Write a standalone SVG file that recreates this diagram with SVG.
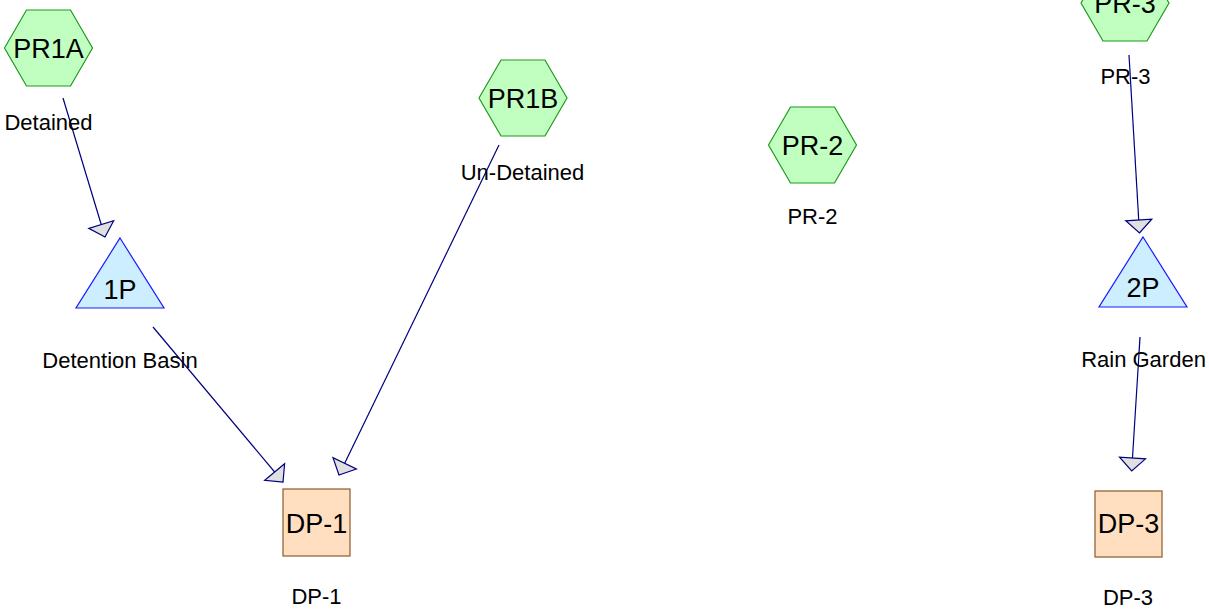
<svg xmlns="http://www.w3.org/2000/svg" width="1209" height="614" viewBox="0 0 1209 614">
<style>
.hex{fill:#c0ffc0;stroke:#1e9a1e;stroke-width:1.2}
.tri{fill:#cdeeff;stroke:#1a1aff;stroke-width:1.2}
.box{fill:#ffdfc0;stroke:#8b5a2b;stroke-width:1.2}
.nl{font-family:"Liberation Sans",Arial,sans-serif;font-size:27px;fill:#000;text-anchor:middle}
.cap{font-family:"Liberation Sans",Arial,sans-serif;font-size:22px;fill:#000;text-anchor:middle}
.conn line{stroke:#000080;stroke-width:1.2;marker-end:url(#ah)}
</style>
<defs>
<marker id="ah" markerUnits="userSpaceOnUse" markerWidth="30" markerHeight="30" viewBox="-2 -15 17 30" refX="13" refY="0" orient="auto">
<path d="M0,-13 L13,0 L0,13 Z" fill="#e0e0e0" stroke="#000080" stroke-width="1.2"/>
</marker>
</defs>
<rect width="1209" height="614" fill="#fff"/>
<g id="connectors" class="conn">
<line x1="63" y1="98" x2="105" y2="237"/>
<line x1="153" y1="327" x2="283" y2="482"/>
<line x1="499" y1="145" x2="339" y2="475"/>
<line x1="1129" y1="55" x2="1139.5" y2="233"/>
<line x1="1140" y1="337" x2="1131.7" y2="471"/>
</g>
<g id="PR1A">
<polygon class="hex" points="4.5,48 26.5,10 70.5,10 92.5,48 70.5,86 26.5,86"/>
<text class="nl" x="48.5" y="58">PR1A</text>
<text class="cap" x="48.5" y="130">Detained</text>
</g>
<g id="PR1B">
<polygon class="hex" points="479,98 501,60 545,60 567,98 545,136 501,136"/>
<text class="nl" x="523" y="108">PR1B</text>
<text class="cap" x="522.5" y="180">Un-Detained</text>
</g>
<g id="PR-2">
<polygon class="hex" points="768.5,145 790.5,107 834.5,107 856.5,145 834.5,183 790.5,183"/>
<text class="nl" x="812.5" y="155">PR-2</text>
<text class="cap" x="812.5" y="224">PR-2</text>
</g>
<g id="PR-3">
<polygon class="hex" points="1081,3 1103,-35 1147,-35 1169,3 1147,41 1103,41"/>
<text class="nl" x="1125" y="13">PR-3</text>
<text class="cap" x="1125.5" y="84">PR-3</text>
</g>
<g id="1P">
<polygon class="tri" points="120,238 164,308 76,308"/>
<text class="nl" x="120" y="299">1P</text>
<text class="cap" x="120" y="368">Detention Basin</text>
</g>
<g id="2P">
<polygon class="tri" points="1143,237 1187,307 1099,307"/>
<text class="nl" x="1143" y="297">2P</text>
<text class="cap" x="1143.5" y="367">Rain Garden</text>
</g>
<g id="DP-1">
<rect class="box" x="283" y="489" width="67" height="67"/>
<text class="nl" x="316.5" y="533">DP-1</text>
<text class="cap" x="316.5" y="604">DP-1</text>
</g>
<g id="DP-3">
<rect class="box" x="1095" y="491" width="67" height="66"/>
<text class="nl" x="1128.5" y="533">DP-3</text>
<text class="cap" x="1128" y="605">DP-3</text>
</g>
</svg>
